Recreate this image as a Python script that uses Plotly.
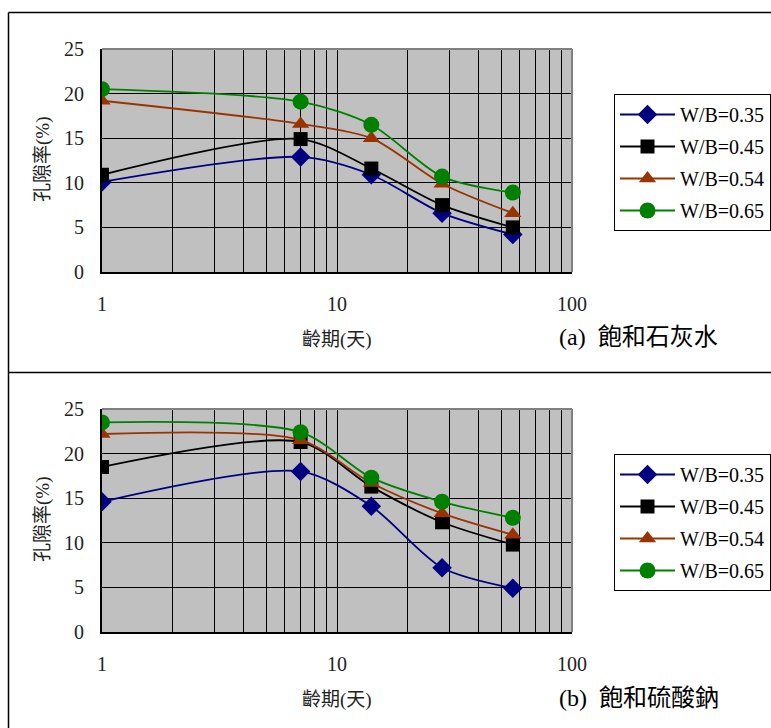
import plotly.graph_objects as go

ages = [1, 7, 14, 28, 56]
series_names = ["W/B=0.35", "W/B=0.45", "W/B=0.54", "W/B=0.65"]

# (a) 飽和石灰水
lime_035 = [10.1, 12.9, 10.9, 6.6, 4.2]
lime_045 = [10.9, 14.9, 11.6, 7.5, 5.0]
lime_054 = [19.2, 16.6, 15.0, 9.9, 6.6]
lime_065 = [20.5, 19.1, 16.5, 10.7, 8.9]

# (b) 飽和硫酸鈉
sulf_035 = [14.6, 18.0, 14.1, 7.2, 4.9]
sulf_045 = [18.5, 21.3, 16.3, 12.3, 9.8]
sulf_054 = [22.2, 21.5, 16.7, 13.3, 10.9]
sulf_065 = [23.5, 22.4, 17.3, 14.6, 12.8]

x_tickvals = [1, 2, 3, 4, 5, 6, 7, 8, 9, 10, 20, 30, 40, 50, 60, 70, 80, 90, 100]
x_ticktext = ["1", "", "", "", "", "", "", "", "", "10", "", "", "", "", "", "", "", "", "100"]
y_tickvals = [0, 5, 10, 15, 20, 25]

colors = ["#000080", "#000000", "#993300", "#008000"]
symbols = ["diamond", "square", "triangle-up", "circle"]
msizes = [15, 14, 15, 16]

W, H = 771, 728
SERIF = "Liberation Serif, Noto Sans CJK TC"

fig = go.Figure()

panels = [
    ("a", "x", "y", "legend", [lime_035, lime_045, lime_054, lime_065]),
    ("b", "x2", "y2", "legend2", [sulf_035, sulf_045, sulf_054, sulf_065]),
]
for pid, xa, ya, lg, data in panels:
    for i, (name, vals, c, s, ms) in enumerate(zip(series_names, data, colors, symbols, msizes)):
        fig.add_trace(go.Scatter(
            x=ages, y=vals, name=name, xaxis=xa, yaxis=ya, legend=lg,
            legendgroup=f"{pid}{i}",
            mode="lines+markers",
            line=dict(color=c, width=1.8, shape="spline", smoothing=0.8),
            marker=dict(color=c, symbol=s, size=ms, line=dict(width=0)),
        ))

def px_x(p):
    return p / W

def px_y(p):
    return 1 - p / H

x_dom = [px_x(102), px_x(572)]
ya_dom = [px_y(272), px_y(49)]
yb_dom = [px_y(632), px_y(409)]

xaxis_common = dict(
    type="log", range=[0, 2], tickvals=x_tickvals, ticktext=x_ticktext,
    showgrid=True, gridcolor="#000000", gridwidth=1,
    showline=True, linecolor="#000000", linewidth=2, mirror=False,
    ticks="", ticklabelstandoff=13, zeroline=False, automargin=False,
    tickfont=dict(family=SERIF, size=20, color="#222222"),
)
yaxis_common = dict(
    range=[0, 25], tickvals=y_tickvals,
    showgrid=True, gridcolor="#000000", gridwidth=1,
    showline=True, linecolor="#000000", linewidth=2, mirror=False,
    ticks="", ticklabelstandoff=12, zeroline=False, automargin=False,
    tickfont=dict(family=SERIF, size=20, color="#222222"),
)

legend_common = dict(
    font=dict(family=SERIF, size=20, color="#000000"),
    bgcolor="#FFFFFF", bordercolor="#000000", borderwidth=1,
    xanchor="right", yanchor="top", itemwidth=55, tracegroupgap=3,
)

fig.update_layout(
    width=W, height=H,
    margin=dict(l=0, r=0, t=0, b=0, autoexpand=False),
    paper_bgcolor="#FFFFFF",
    plot_bgcolor="#C0C0C0",
    showlegend=True,
    xaxis=dict(domain=x_dom, anchor="y", **xaxis_common),
    yaxis=dict(domain=ya_dom, anchor="x", **yaxis_common),
    xaxis2=dict(domain=x_dom, anchor="y2", **xaxis_common),
    yaxis2=dict(domain=yb_dom, anchor="x2", **yaxis_common),
    legend=dict(x=1.0, y=px_y(94), **legend_common),
    legend2=dict(x=1.0, y=px_y(454), **legend_common),
)

shapes = []
# gray top/right plot borders
for xr, yr in [("x domain", "y domain"), ("x2 domain", "y2 domain")]:
    shapes.append(dict(type="line", xref=xr, yref=yr, x0=0, x1=1, y0=1, y1=1,
                       line=dict(color="#808080", width=2)))
    shapes.append(dict(type="line", xref=xr, yref=yr, x0=1, x1=1, y0=0, y1=1,
                       line=dict(color="#808080", width=2)))
# outer frames
shapes.append(dict(type="line", xref="paper", yref="paper", x0=px_x(8.5), x1=1.05,
                   y0=px_y(12.5), y1=px_y(12.5), line=dict(color="#000000", width=1.5)))
shapes.append(dict(type="line", xref="paper", yref="paper", x0=px_x(8.5), x1=1.05,
                   y0=px_y(372.5), y1=px_y(372.5), line=dict(color="#000000", width=1.5)))
shapes.append(dict(type="line", xref="paper", yref="paper", x0=px_x(8.5), x1=px_x(8.5),
                   y0=-0.05, y1=px_y(12.5), line=dict(color="#000000", width=1.5)))
fig.update_layout(shapes=shapes)

annots = []
for yt, yl, ycap, cap in [(340, 160, 337, "(a)  飽和石灰水"), (700, 520, 698, "(b)  飽和硫酸鈉")]:
    annots.append(dict(text="齡期(天)", xref="paper", yref="paper", x=px_x(337), y=px_y(yt),
                       xanchor="center", yanchor="middle", showarrow=False,
                       font=dict(family=SERIF, size=19, color="#222222")))
    annots.append(dict(text="孔隙率(%)", xref="paper", yref="paper", x=px_x(43), y=px_y(yl),
                       xanchor="center", yanchor="middle", showarrow=False, textangle=-90,
                       font=dict(family=SERIF, size=19, color="#222222")))
    annots.append(dict(text=cap, xref="paper", yref="paper", x=px_x(557), y=px_y(ycap),
                       xanchor="left", yanchor="middle", showarrow=False,
                       font=dict(family=SERIF, size=24, color="#000000")))
fig.update_layout(annotations=annots)

fig.write_html(
    "out.html",
    config={"displayModeBar": False},
    post_script="document.body.style.margin='0';document.body.style.overflow='hidden';",
)
